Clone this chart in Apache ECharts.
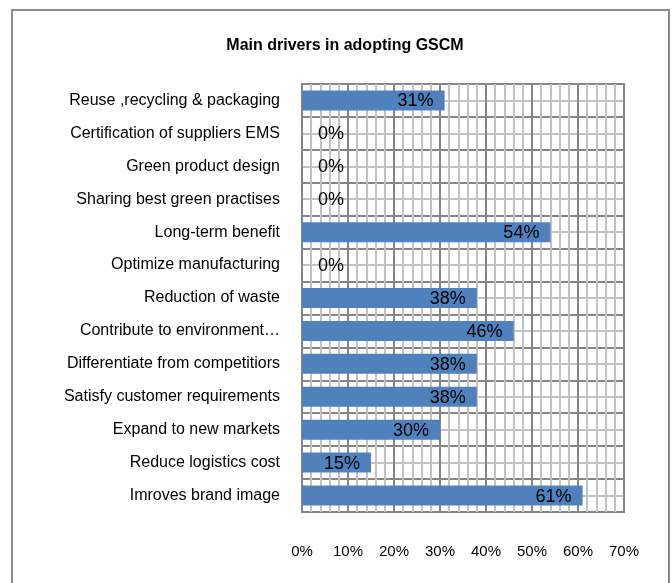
<!DOCTYPE html>
<html>
<head>
<meta charset="utf-8">
<script src="https://cdn.jsdelivr.net/npm/echarts@6/dist/echarts.min.js"></script>
<style>
  html, body { margin: 0; padding: 0; background: #fff; }
  #main { width: 672px; height: 583px; }
</style>
</head>
<body>
<div id="main"></div>
<script>
// categories top to bottom, as in the picture
var categories = [
  'Reuse ,recycling & packaging',
  'Certification of suppliers EMS',
  'Green product design',
  'Sharing best green practises',
  'Long-term benefit',
  'Optimize manufacturing',
  'Reduction of waste',
  'Contribute to environment…',
  'Differentiate from competitiors',
  'Satisfy customer requirements',
  'Expand to new markets',
  'Reduce logistics cost',
  'Imroves brand image'
];
var values = [31, 0, 0, 0, 54, 0, 38, 46, 38, 38, 30, 15, 61]; // percent
var xTicks = [0, 10, 20, 30, 40, 50, 60, 70];

var font = 'Liberation Sans, Arial, sans-serif';

var chart = echarts.init(document.getElementById('main'));

var barData = values.map(function (v) {
  var item = { value: v };
  if (v === 0) {
    // Excel puts the zero labels just right of the axis
    item.label = { position: 'right', distance: 16 };
  }
  return item;
});

chart.setOption({
  animation: false,
  title: {
    text: 'Main drivers in adopting GSCM',
    left: 340,
    top: 33,
    textAlign: 'center',
    textStyle: { fontFamily: font, fontSize: 16, fontWeight: 'bold', color: '#000' }
  },
  graphic: [{
    type: 'rect',
    shape: { x: 12, y: 10, width: 657, height: 600 },
    style: { fill: 'none', stroke: '#8c8c8c', lineWidth: 2 },
    silent: true
  }],
  grid: {
    left: 302, top: 84, width: 322, height: 428,
    containLabel: false,
    outerBoundsMode: 'none',
    show: true, borderColor: '#858585', borderWidth: 2
  },
  xAxis: {
    type: 'value',
    min: xTicks[0],
    max: xTicks[xTicks.length - 1],
    interval: 10,
    axisLine: { show: false },
    axisTick: { show: false },
    axisLabel: {
      margin: 32,
      fontFamily: font, fontSize: 15, color: '#000',
      formatter: '{value}%'
    },
    splitLine: { show: true, lineStyle: { color: '#858585', width: 2 } },
    minorTick: { show: false, splitNumber: 5 },
    minorSplitLine: { show: true, lineStyle: { color: '#c2c2c2', width: 2 } }
  },
  yAxis: [{
    // helper axis only for the light lines through band centres
    type: 'value',
    position: 'right',
    min: 0,
    max: categories.length * 2,
    interval: 1,
    axisLine: { show: false },
    axisTick: { show: false },
    axisLabel: { show: false },
    splitLine: { show: true, lineStyle: { color: '#c2c2c2', width: 2 } }
  }, {
    type: 'category',
    position: 'left',
    data: categories,
    inverse: true,
    axisLine: { show: false },
    axisTick: { show: false },
    axisLabel: {
      margin: 22,
      fontFamily: font, fontSize: 16, color: '#000'
    },
    splitLine: { show: true, lineStyle: { color: '#858585', width: 2 } }
  }],
  series: [{
    type: 'bar',
    yAxisIndex: 1,
    data: barData,
    barWidth: 20,
    itemStyle: { color: '#4f81bd' },
    label: {
      show: true,
      position: 'insideRight',
      distance: 11,
      offset: [0, 1],
      formatter: '{c}%',
      fontFamily: font,
      fontSize: 18,
      color: '#000'
    }
  }]
});
</script>
</body>
</html>
